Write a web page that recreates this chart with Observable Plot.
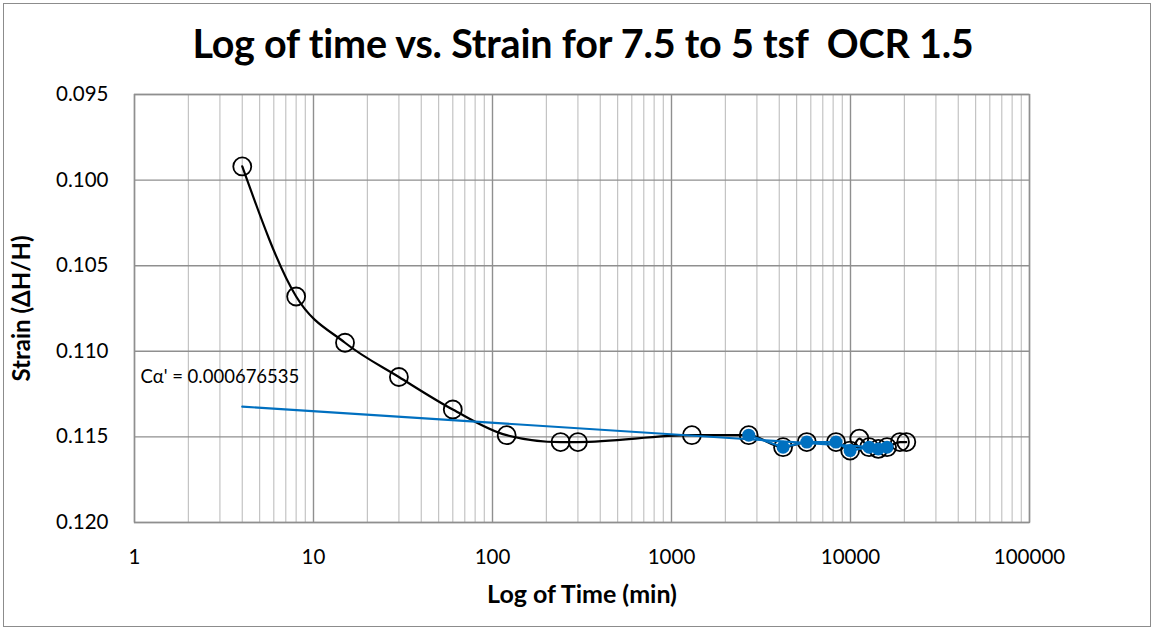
<!DOCTYPE html>
<html>
<head>
<meta charset="utf-8">
<script src="https://cdn.jsdelivr.net/npm/d3@7"></script>
<script src="https://cdn.jsdelivr.net/npm/@observablehq/plot@0.6"></script>
<style>
  html, body { margin: 0; padding: 0; background: #fff; }
  #wrap { position: relative; width: 1155px; height: 630px; overflow: hidden; background: #fff; }
  #border { position: absolute; left: 3px; top: 3px; right: 4px; bottom: 3px; border: 1px solid #8c8c8c; pointer-events: none; }
  #title { position: absolute; left: 0; width: 1166px; top: 19px; text-align: center;
           font-family: Lato, sans-serif; font-weight: 700; font-size: 39.5px; color: #000; letter-spacing: -0.2px; }
  #chart { position: absolute; left: 0; top: 0; }
</style>
</head>
<body>
<div id="wrap">
  <div id="chart"></div>
  <div id="title">Log of time vs. Strain for 7.5 to 5 tsf&nbsp; OCR 1.5</div>
  <div id="border"></div>
</div>
<script>
// Full series (open black circles, smoothed black line)
const times   = [4, 8, 15, 30, 60, 120, 240, 300, 1300, 2700, 4200, 5700, 8300, 9950, 11200, 12700, 14300, 16000, 18900, 20500];
const strains = [0.0992, 0.1068, 0.1095, 0.1115, 0.1134, 0.1149, 0.1153, 0.1153, 0.1149, 0.1149, 0.1156, 0.1153, 0.1153, 0.1158, 0.1151, 0.1156, 0.1157, 0.1156, 0.1153, 0.1153];

// Secondary-compression points (blue filled)
const blueTimes   = [2700, 4200, 5700, 8300, 9950, 12700, 14300, 16000];
const blueStrains = [0.1149, 0.1156, 0.1153, 0.1153, 0.1158, 0.1156, 0.1157, 0.1156];

// Trend line end points
const trendTimes   = [4, 16000];
const trendStrains = [0.11323, 0.11566];

// Axes ticks
const xTicks = [1, 10, 100, 1000, 10000, 100000];
const xMinor = [2,3,4,5,6,7,8,9, 20,30,40,50,60,70,80,90, 200,300,400,500,600,700,800,900,
                2000,3000,4000,5000,6000,7000,8000,9000, 20000,30000,40000,50000,60000,70000,80000,90000];
const yTicks = [0.095, 0.100, 0.105, 0.110, 0.115, 0.120];

const annotation = "Cα' = 0.000676535";

const main = times.map((t, i) => ({t, s: strains[i]}));
const blue = blueTimes.map((t, i) => ({t, s: blueStrains[i]}));
const trend = trendTimes.map((t, i) => ({t, s: trendStrains[i]}));

const chart = Plot.plot({
  width: 1155,
  height: 630,
  marginLeft: 134,
  marginRight: 126,
  marginTop: 94,
  marginBottom: 108,
  style: {fontFamily: "Lato, sans-serif", fontSize: "20.5px", color: "#000", background: "transparent"},
  x: {type: "log", domain: [1, 100000], ticks: xTicks, tickFormat: d => String(d), tickSize: 0, tickPadding: 27,
      label: "Log of Time (min)", labelAnchor: "center", labelArrow: "none", labelOffset: 80},
  y: {domain: [0.095, 0.120], reverse: true, ticks: yTicks, tickFormat: d3.format(".3f"), tickSize: 0, tickPadding: 26,
      label: "Strain (ΔH/H)", labelAnchor: "center", labelArrow: "none", labelOffset: 122},
  marks: [
    Plot.ruleX(xMinor, {stroke: "#c4c4c4", strokeWidth: 1.2}),
    Plot.ruleX(xTicks, {stroke: "#8f8f8f", strokeWidth: 1.4}),
    Plot.ruleY(yTicks, {stroke: "#8f8f8f", strokeWidth: 1.4}),
    Plot.frame({stroke: "#8f8f8f", strokeWidth: 1.4}),
    Plot.line(main, {x: "t", y: "s", stroke: "#000", strokeWidth: 2.2, curve: "monotone-x"}),
    Plot.dot(main, {x: "t", y: "s", r: 9, stroke: "#000", strokeWidth: 1.8, fill: "none"}),
    Plot.line(trend, {x: "t", y: "s", stroke: "#0070C0", strokeWidth: 2.2}),
    Plot.line(blue, {x: "t", y: "s", stroke: "#0070C0", strokeWidth: 2.2}),
    Plot.dot(blue, {x: "t", y: "s", r: 6.5, fill: "#0070C0", stroke: "none"}),
    Plot.text([annotation], {x: 1.08, y: 0.1115, text: d => d, textAnchor: "start", fontSize: 18.5, fill: "#000"})
  ]
});

// Bold, larger axis labels
function styleLabel(sel, size) {
  chart.querySelectorAll(sel).forEach(g => {
    g.setAttribute("font-size", size);
    g.style.setProperty("font-size", size, "important");
    g.querySelectorAll("text").forEach(t => {
      t.setAttribute("font-weight", "700");
      t.setAttribute("font-size", size);
      t.style.setProperty("font-weight", "700", "important");
      t.style.setProperty("font-size", size, "important");
    });
  });
}
styleLabel("[aria-label='x-axis label']", "25px");
styleLabel("[aria-label='y-axis label']", "24px");
document.getElementById("chart").appendChild(chart);
</script>
</body>
</html>
